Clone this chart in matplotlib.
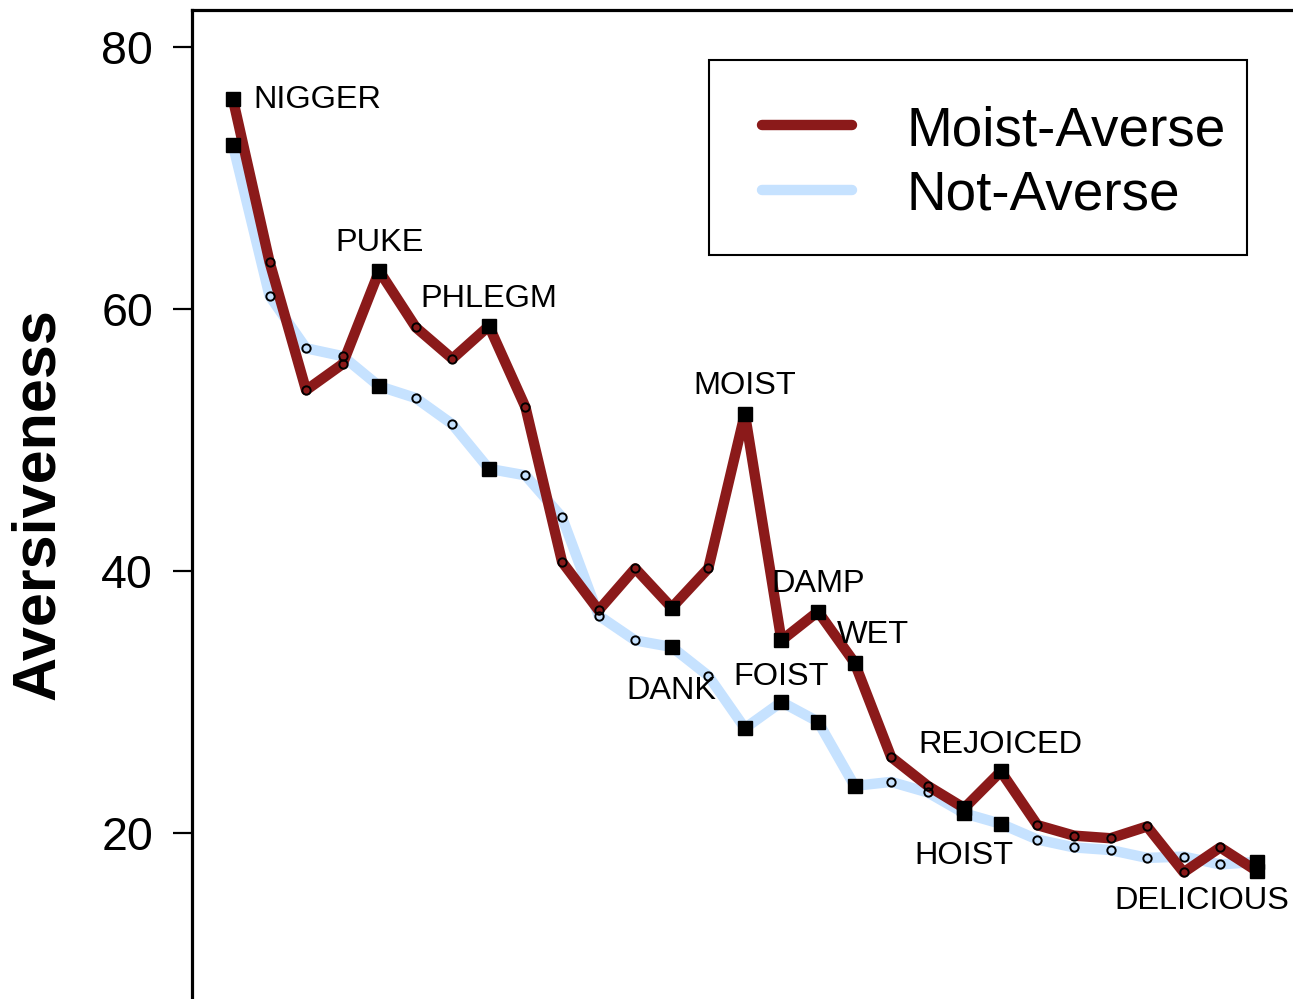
import numpy as np
import matplotlib
matplotlib.use("Agg")
import matplotlib.pyplot as plt
from matplotlib.lines import Line2D
from matplotlib.patches import Rectangle

plt.rcParams["font.family"] = ["Liberation Sans", "DejaVu Sans"]

# aversiveness ratings per word, sorted by the not-averse ordering
moist_averse = [76.0, 63.6, 53.8, 55.8, 62.9, 58.6, 56.2, 58.7, 52.5, 40.7,
                37.0, 40.2, 37.2, 40.2, 52.0, 34.7, 36.9, 33.0, 25.8, 23.6,
                21.9, 24.7, 20.6, 19.8, 19.6, 20.5, 17.0, 18.9, 17.1]
not_averse = [72.5, 61.0, 57.0, 56.4, 54.1, 53.2, 51.2, 47.8, 47.3, 44.1,
              36.6, 34.7, 34.2, 32.0, 28.0, 30.0, 28.5, 23.6, 23.9, 23.1,
              21.5, 20.7, 19.5, 18.9, 18.7, 18.1, 18.2, 17.6, 17.8]
# words of interest (index, label)
label_idx = [0, 4, 7, 12, 14, 15, 16, 17, 20, 21, 28]
label_txt = ["NIGGER", "PUKE", "PHLEGM", "DANK", "MOIST", "FOIST",
             "DAMP", "WET", "HOIST", "REJOICED", "DELICIOUS"]
series_names = ["Moist-Averse", "Not-Averse"]

red = "#8B1A1A"
blue = "#C6E2FF"
W, H = 1293, 999

fig = plt.figure(figsize=(W / 100, H / 100), dpi=100)
ax = fig.add_axes([192 / W, 0.0, 1101 / W, 989 / H])

x = np.arange(len(moist_averse))
mask = np.zeros(len(x), dtype=bool)
mask[label_idx] = True

ax.plot(x, not_averse, color=blue, lw=7.5, solid_joinstyle="round", zorder=2)
ax.plot(x, moist_averse, color=red, lw=7.5, solid_joinstyle="round", zorder=3)

for ys in (not_averse, moist_averse):
    ys = np.asarray(ys)
    ax.plot(x[~mask], ys[~mask], ls="none", marker="o", ms=6, mfc="none",
            mec="black", mew=1.4, zorder=4)
    ax.plot(x[mask], ys[mask], ls="none", marker="s", ms=10.5, color="black",
            zorder=5)

# where each word label sits (data units) and its alignment
lab_pos = {
    "NIGGER": (0.55, 76.2, "left"),
    "PUKE": (4.0, 65.3, "center"),
    "PHLEGM": (7.0, 61.0, "center"),
    "DANK": (12.0, 31.1, "center"),
    "MOIST": (14.0, 54.35, "center"),
    "FOIST": (15.0, 32.2, "center"),
    "DAMP": (16.0, 39.25, "center"),
    "WET": (17.5, 35.35, "center"),
    "HOIST": (20.0, 18.5, "center"),
    "REJOICED": (21.0, 27.0, "center"),
    "DELICIOUS": (26.5, 15.05, "center"),
}
for t in label_txt:
    lx, ly, ha = lab_pos[t]
    ax.text(lx, ly, t, fontsize=23.4, ha=ha, va="center_baseline", zorder=6,
            clip_on=False)

ax.set_xlim(-1.12, 28.99)
ax.set_ylim(7.33, 82.82)
ax.set_yticks([20, 40, 60, 80])
ax.set_xticks([])
ax.tick_params(axis="y", labelsize=33.5, length=14, width=1.6, pad=14)
ax.set_ylabel("Aversiveness", fontsize=44, fontweight="bold", labelpad=25)

for s in ("right", "bottom"):
    ax.spines[s].set_visible(False)
for s in ("left", "top"):
    ax.spines[s].set_linewidth(2.3)


# legend box drawn by hand, in figure pixels
def fp(px, py):
    return px / W, 1 - py / H


x0, y0 = fp(709, 255)
x1, y1 = fp(1247, 60)
fig.patches.append(Rectangle((x0, y0), x1 - x0, y1 - y0, transform=fig.transFigure,
                             fill=False, edgecolor="black", lw=1.5))
for name, col, py in zip(series_names, [red, blue], [125, 190]):
    (ax_, ay), (bx, _) = fp(762, py), fp(852, py)
    fig.lines.append(Line2D([ax_, bx], [ay, ay], transform=fig.transFigure,
                            color=col, lw=7.5, solid_capstyle="round"))
    tx, ty = fp(906, py)
    fig.text(tx, ty, name, fontsize=39.5, ha="left", va="center_baseline")

fig.savefig("out.png", dpi=100)
